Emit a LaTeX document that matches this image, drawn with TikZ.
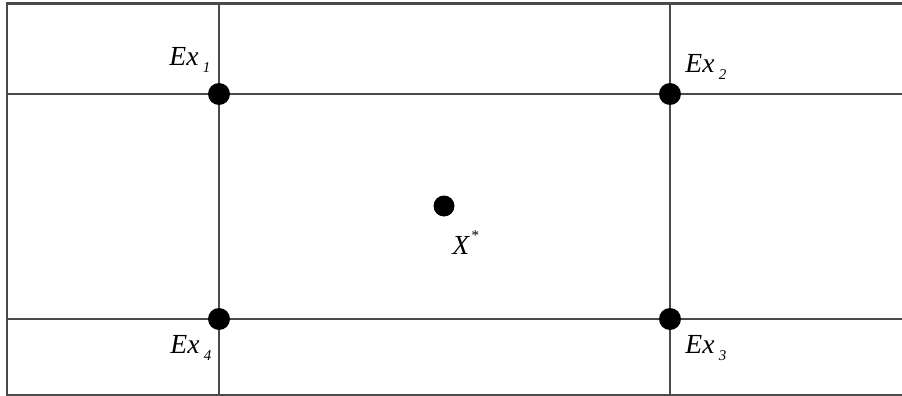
\documentclass[tikz,border=0pt]{standalone}
\usepackage{fontspec}
\setmainfont{Liberation Serif}
\usepackage{tikz}
\usetikzlibrary{positioning}
\definecolor{gridgray}{HTML}{4A4A4A}

\tikzset{
  gridline/.style={draw=gridgray, line width=0.6pt},
  dotnode/.style={circle, fill=black, inner sep=0pt, minimum size=11pt},
  exlabel/.style={anchor=base west, inner sep=0pt, font=\fontsize{13.8}{16}\selectfont\itshape}
}
\newcommand{\exsub}[1]{\hspace{2.2pt}\raisebox{-3.5pt}{\fontsize{7.5}{8}\selectfont\itshape #1}}

\begin{document}
\begin{tikzpicture}[x=0.5pt, y=-0.5pt]
  \useasboundingbox (0,0) rectangle (902,396);
  % outer frame, open on the right
  \draw[gridline, line width=1pt] (910,3.5) -- (6.5,3.5) -- (6.5,395) -- (910,395);
  % grid lines through the extreme points
  \coordinate (t1) at (219,3.5);  \coordinate (b1) at (219,395);
  \coordinate (t2) at (670,3.5);  \coordinate (b2) at (670,395);
  \coordinate (l1) at (6.5,94);   \coordinate (r1) at (910,94);
  \coordinate (l2) at (6.5,319);  \coordinate (r2) at (910,319);
  \draw[gridline] (t1) -- (b1);
  \draw[gridline] (t2) -- (b2);
  \draw[gridline] (l1) -- (r1);
  \draw[gridline] (l2) -- (r2);
  % points
  \foreach \nm/\px/\py in {ex1/219/94, ex2/670/94, ex3/670/319, ex4/219/319}{
    \node[dotnode] (\nm) at (\px,\py) {};
  }
  \node[dotnode, minimum size=10.5pt] (xstar) at (444,206) {};
  % labels
  \node[exlabel] (lab1) at (169,65) {Ex\exsub{1}};
  \node[exlabel] (lab2) at (685,72) {Ex\exsub{2}};
  \node[exlabel] (lab3) at (685,353) {Ex\exsub{3}};
  \node[exlabel] (lab4) at (170,353) {Ex\exsub{4}};
  \node[exlabel] (labx) at (452,255) {X\hspace{0.8pt}\raisebox{7.5pt}{\fontsize{7.5}{8}\selectfont *}};
\end{tikzpicture}
\end{document}
